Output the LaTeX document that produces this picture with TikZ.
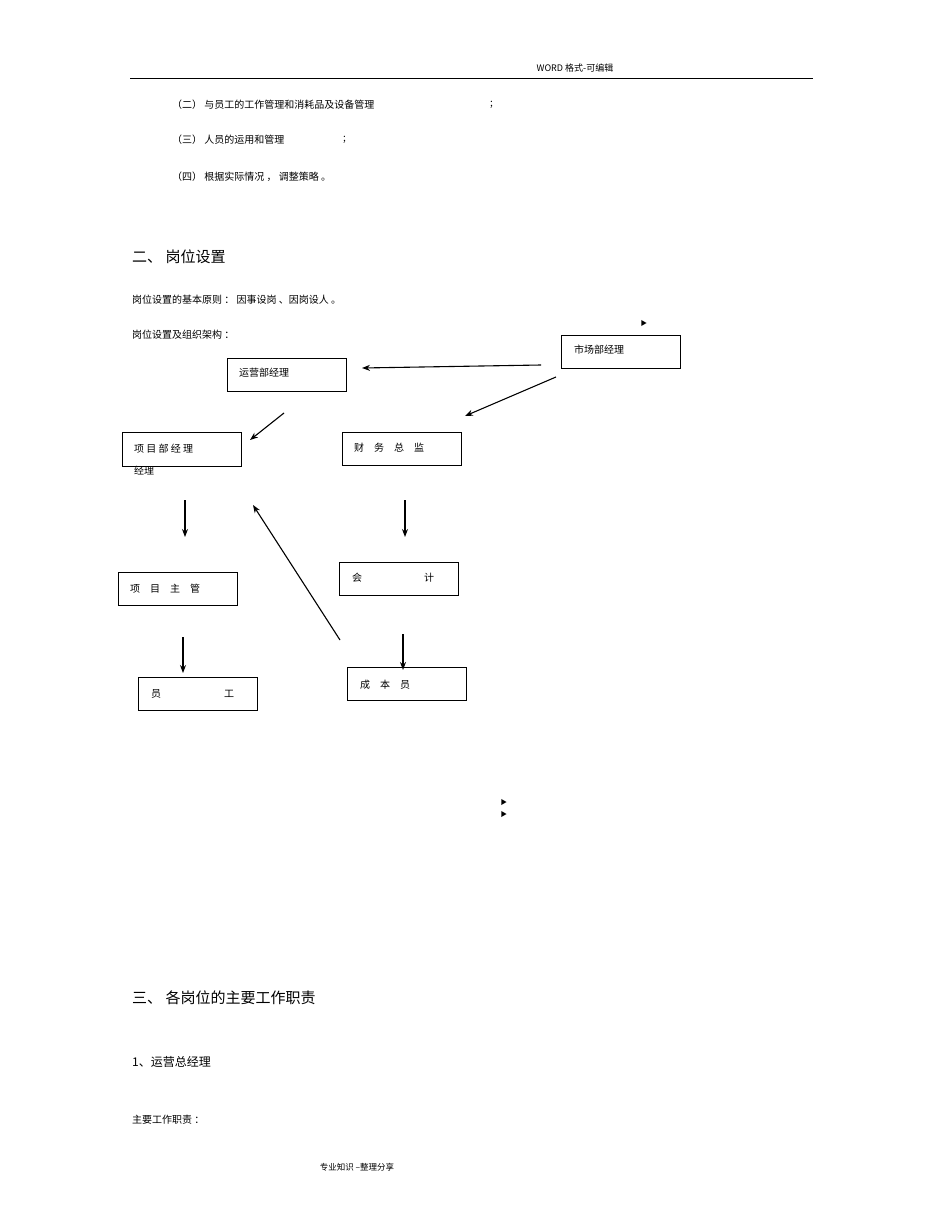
\documentclass[tikz,border=0pt]{standalone}
\usepackage{fontspec}
\setmainfont{Noto Sans CJK SC}
\usetikzlibrary{arrows.meta,shapes.geometric}
\begin{document}
\begin{tikzpicture}[x=1pt,y=-1pt,
  txt/.style={anchor=west,inner sep=0,font=\fontsize{10}{12}\selectfont},
  hd/.style={anchor=west,inner sep=0,font=\fontsize{15}{18}\selectfont},
  bx/.style={draw,line width=0.9pt,minimum width=119pt,minimum height=33pt,inner sep=0,anchor=north west},
  lab/.style={anchor=west,inner sep=0,font=\fontsize{10}{12}\selectfont},
  arr/.style={line width=1.1pt,-{Stealth[length=8pt,width=6pt]}},
  tri/.style={fill,regular polygon,regular polygon sides=3,shape border rotate=-90,inner sep=0,minimum size=7pt}]
\useasboundingbox[fill=white] (0,0) rectangle (950,1230);
\node[anchor=center,inner sep=0,font=\fontsize{9}{11}\selectfont] (h) at (575,68) {WORD 格式-可编辑};
\draw[line width=0.6pt] (130,78) -- (813,78);
\node[txt] (l1) at (172,105) {（二） 与员工的工作管理和消耗品及设备管理};
\node[txt] (s1) at (490,105) {;};
\node[txt] (l2) at (172,140) {（三） 人员的运用和管理};
\node[txt] (s2) at (343,140) {;};
\node[txt] (l3) at (172,177) {（四） 根据实际情况 ， 调整策略 。};
\node[hd] (t2) at (132,257) {二、 岗位设置};
\node[txt] (p1) at (132,300) {岗位设置的基本原则 ： 因事设岗 、因岗设人 。};
\node[txt] (p2) at (132,335) {岗位设置及组织架构 ：};
\node[tri] (tr1) at (643,323) {};
\node[bx] (sc) at (561,335) {}; \node[lab] (sct) at (574,350) {市场部经理};
\node[bx] (yy) at (227,358) {}; \node[lab] (yyt) at (239,373) {运营部经理};
\node[bx,minimum height=34pt] (xm) at (122,432) {}; \node[lab] (xmt) at (134,449) {项 目 部 经 理};
\node[lab] (xm2) at (134,471) {经理};
\node[bx] (cw) at (342,432) {}; \node[lab] (cwt) at (354,448) {财　务　总　监};
\node[bx] (kj) at (339,562) {}; \node[lab] (kj1) at (352,578) {会}; \node[lab] (kj2) at (424,578) {计};
\node[bx] (zg) at (118,572) {}; \node[lab] (zgt) at (130,589) {项　目　主　管};
\node[bx] (yg) at (138,677) {}; \node[lab] (yg1) at (151,694) {员}; \node[lab] (yg2) at (224,694) {工};
\node[bx] (cb) at (347,667) {}; \node[lab] (cbt) at (360,685) {成　本　员};
\coordinate (a1) at (541,365); \coordinate (b1) at (362,368);
\coordinate (a2) at (556,377); \coordinate (b2) at (465,416);
\coordinate (a3) at (284,413); \coordinate (b3) at (250,440);
\coordinate (a4) at (185,500); \coordinate (b4) at (185,537);
\coordinate (a5) at (405,500); \coordinate (b5) at (405,537);
\coordinate (a6) at (183,637); \coordinate (b6) at (183,673);
\coordinate (a7) at (403,634); \coordinate (b7) at (403,670);
\coordinate (a8) at (340,640); \coordinate (b8) at (253,505);
\draw[arr] (a1) -- (b1); \draw[arr] (a2) -- (b2); \draw[arr] (a3) -- (b3);
\draw[arr] (a4) -- (b4); \draw[arr] (a5) -- (b5); \draw[arr] (a6) -- (b6);
\draw[arr] (a7) -- (b7); \draw[arr] (a8) -- (b8);
\node[tri] (tr2) at (503,802) {};
\node[tri] (tr3) at (503,814) {};
\node[hd] (t3) at (132,998) {三、 各岗位的主要工作职责};
\node[anchor=west,inner sep=0,font=\fontsize{12}{14}\selectfont] (t4) at (132,1062) {1、运营总经理};
\node[txt] (p3) at (132,1120) {主要工作职责 ：};
\node[anchor=center,inner sep=0,font=\fontsize{8.5}{10}\selectfont] (f) at (357,1167) {专业知识 --整理分享};
\end{tikzpicture}
\end{document}
